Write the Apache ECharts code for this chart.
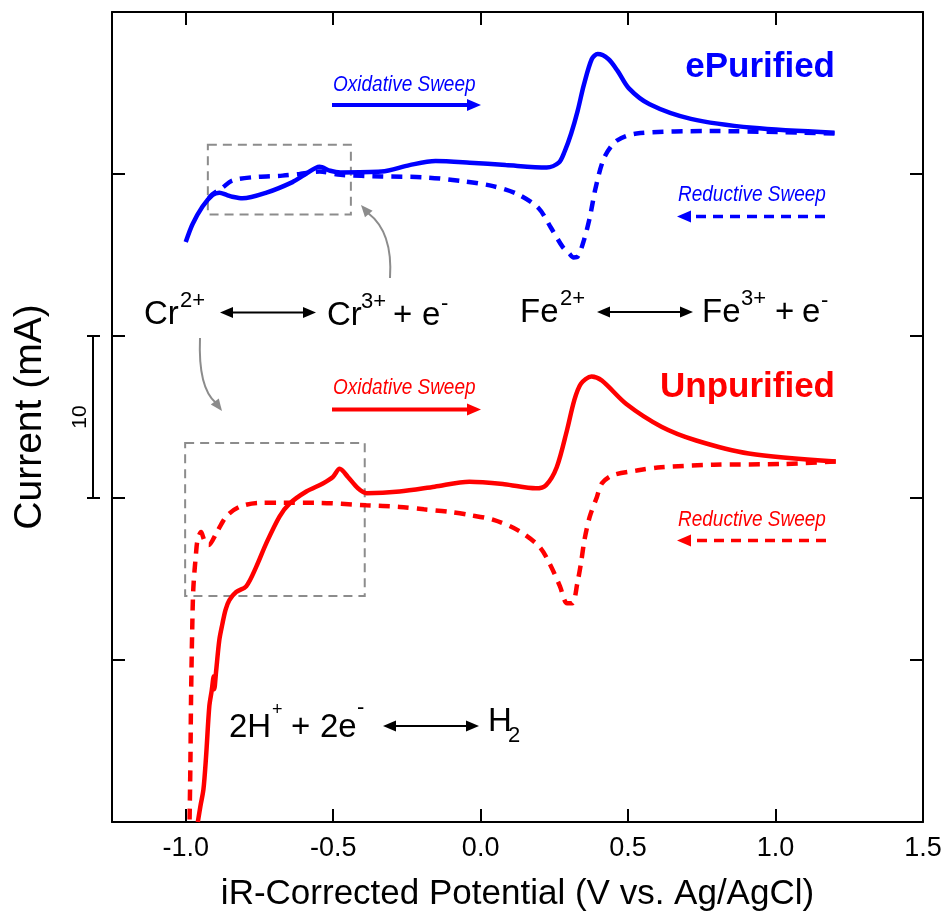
<!DOCTYPE html>
<html>
<head>
<meta charset="utf-8">
<script src="https://cdn.jsdelivr.net/npm/echarts@6/dist/echarts.min.js"></script>
<style>
  html, body { margin: 0; padding: 0; background: #fff; }
  #chart { width: 946px; height: 917px; }
</style>
</head>
<body>
<div id="chart"></div>
<script>
// ticks
const potentialTicks = [-1.0, -0.5, 0.0, 0.5, 1.0, 1.5]
const currentTicks = [10, 20, 30, 40]

// ePurified, oxidative sweep (solid) [V, mA]
const ePurifiedOx = [
  [-1.0, 35.8], [-0.977, 36.9], [-0.943, 38.0], [-0.909, 38.7], [-0.886, 38.85], [-0.86, 38.7],
  [-0.842, 38.6], [-0.808, 38.5], [-0.726, 38.85], [-0.638, 39.5], [-0.597, 39.95], [-0.546, 40.45],
  [-0.51, 40.2], [-0.475, 40.1], [-0.336, 40.15], [-0.241, 40.55], [-0.153, 40.8], [-0.037, 40.7],
  [0.085, 40.55], [0.224, 40.4], [0.265, 40.7], [0.285, 41.4], [0.307, 42.5], [0.329, 43.9],
  [0.35, 45.5], [0.377, 47.1], [0.397, 47.4], [0.433, 47.1], [0.465, 46.35], [0.502, 45.3],
  [0.573, 44.3], [0.713, 43.4], [0.923, 42.85], [1.2, 42.55],
]
// ePurified, reductive sweep (dashed)
const ePurifiedRed = [
  [1.2, 42.5], [0.782, 42.65], [0.529, 42.5], [0.461, 42.05], [0.419, 41.0], [0.39, 39.15],
  [0.37, 37.3], [0.35, 35.9], [0.329, 34.9], [0.315, 34.85], [0.3, 35.1], [0.278, 35.5],
  [0.238, 36.7], [0.196, 37.9], [0.126, 38.75], [0.042, 39.25], [-0.056, 39.55], [-0.195, 39.8],
  [-0.336, 39.85], [-0.475, 39.95], [-0.546, 40.15], [-0.614, 40.0], [-0.672, 39.9], [-0.774, 39.8],
  [-0.842, 39.6], [-0.876, 39.15], [-0.909, 38.75], [-0.937, 38.15],
]
// Unpurified, oxidative sweep (solid)
const unpurifiedOx = [
  [-0.959, 0], [-0.95, 1.0], [-0.94, 2.0], [-0.931, 4.05], [-0.92, 7.15], [-0.912, 8.1],
  [-0.905, 9.0], [-0.903, 8.2], [-0.897, 9.3], [-0.886, 11.25], [-0.876, 12.2], [-0.865, 13.1],
  [-0.852, 13.7], [-0.829, 14.2], [-0.795, 14.55], [-0.761, 15.75], [-0.727, 17.2], [-0.682, 18.85],
  [-0.648, 19.65], [-0.591, 20.4], [-0.535, 20.9], [-0.501, 21.3], [-0.478, 21.8], [-0.45, 21.3],
  [-0.416, 20.6], [-0.387, 20.3], [-0.275, 20.4], [-0.156, 20.7], [-0.038, 21.0], [0.08, 20.85],
  [0.187, 20.6], [0.222, 20.8], [0.258, 21.9], [0.293, 24.2], [0.317, 26.0], [0.34, 27.05],
  [0.376, 27.5], [0.411, 27.25], [0.494, 25.8], [0.613, 24.4], [0.731, 23.55], [0.909, 22.75],
  [1.204, 22.25],
]
// Unpurified, reductive sweep (dashed)
const unpurifiedRed = [
  [1.204, 22.25], [1.026, 22.1], [0.79, 22.05], [0.612, 21.9], [0.529, 21.7], [0.447, 21.4],
  [0.411, 20.9], [0.394, 20.05], [0.37, 18.85], [0.352, 17.4], [0.34, 15.95], [0.328, 14.75],
  [0.311, 13.5], [0.293, 13.5], [0.269, 14.55], [0.234, 15.95], [0.199, 17.0], [0.127, 18.0],
  [0.044, 18.65], [-0.038, 18.95], [-0.109, 19.15], [-0.192, 19.3], [-0.275, 19.45], [-0.388, 19.55],
  [-0.558, 19.7], [-0.671, 19.7], [-0.75, 19.7], [-0.818, 19.45], [-0.863, 18.85], [-0.897, 17.8],
  [-0.922, 17.1], [-0.937, 17.4], [-0.948, 17.9], [-0.96, 17.4], [-0.965, 16.6], [-0.974, 14.5],
  [-0.978, 11.9], [-0.982, 7.55], [-0.984, 3.85], [-0.987, 0],
]

// zoom boxes around the Cr region [[x1, y1], [x2, y2]]
const ePurifiedBox = [[-0.925, 41.8], [-0.44, 37.5]]
const unpurifiedBox = [[-1.002, 23.4], [-0.393, 13.95]]

const FONT = '"Liberation Sans", Arial, Helvetica, sans-serif'
const BLUE = '#0000ff'
const RED = '#ff0000'
const GRAY = '#8c8c8c'

const chart = echarts.init(document.getElementById('chart'))

const arrowHead = function (tx, ty, dx, dy, len, half, color) {
  const l = Math.sqrt(dx * dx + dy * dy)
  const ux = dx / l
  const uy = dy / l
  const bx = tx - ux * len
  const by = ty - uy * len
  return {
    type: 'polygon',
    shape: { points: [[tx, ty], [bx - uy * half, by + ux * half], [bx + uy * half, by - ux * half]] },
    style: { fill: color },
  }
}

// straight arrow, optional dashed
const sweepArrow = function (x1, x2, y, color, dashed) {
  const dir = x2 > x1 ? 1 : -1
  return [
    {
      type: 'line',
      shape: { x1: x1, y1: y, x2: x2 - dir * 12, y2: y },
      style: { stroke: color, lineWidth: dashed ? 3.5 : 4, lineDash: dashed ? [10, 7] : null },
    },
    arrowHead(x2, y, dir, 0, 14, 6, color),
  ]
}

const doubleArrow = function (x1, x2, y) {
  return [
    { type: 'line', shape: { x1: x1 + 10, y1: y, x2: x2 - 10, y2: y }, style: { stroke: '#000', lineWidth: 2 } },
    arrowHead(x1, y, -1, 0, 13, 5.5, '#000'),
    arrowHead(x2, y, 1, 0, 13, 5.5, '#000'),
  ]
}

const label = function (x, y, text, color, size, weight, italic, align, scaleY) {
  return {
    type: 'text',
    x: x,
    y: y,
    scaleY: scaleY || 1,
    style: {
      text: text,
      fill: color,
      font: (italic ? 'italic ' : '') + (weight || 'normal') + ' ' + size + 'px ' + FONT,
      align: align || 'left',
      verticalAlign: 'middle',
    },
  }
}

const sweepLabel = function (x, y, text, color) {
  return label(x, y, text, color, 19, 'normal', true, 'left', 1.15)
}

// reaction text pieces: [text, x, y, fontSize]
const chemPieces = [
  ['Cr', 144, 315, 33], ['2+', 180, 301, 22],
  ['Cr', 327, 316, 33], ['3+', 361, 302, 22], ['+', 393, 316, 33], ['e', 422, 316, 33], ['-', 441, 304, 22],
  ['Fe', 520, 313, 33], ['2+', 560, 299, 22],
  ['Fe', 702, 313, 33], ['3+', 741, 299, 22], ['+', 775, 313, 33], ['e', 802, 313, 33], ['-', 821, 301, 22],
  ['2H', 229, 728, 33], ['+', 272, 710, 18], ['+', 291, 728, 33], ['2e', 320, 728, 33], ['-', 357, 708, 22],
  ['H', 488, 722, 33], ['2', 508, 736, 22],
]

const graphics = [].concat(
  // sample names
  label(835, 67, 'ePurified', BLUE, 35, 'bold', false, 'right'),
  label(835, 387, 'Unpurified', RED, 35, 'bold', false, 'right'),
  // sweep directions
  sweepLabel(333, 85, 'Oxidative Sweep', BLUE),
  sweepArrow(332, 481, 105, BLUE, false),
  sweepLabel(678, 195, 'Reductive Sweep', BLUE),
  sweepArrow(825, 677, 216.5, BLUE, true),
  sweepLabel(333, 388, 'Oxidative Sweep', RED),
  sweepArrow(332, 481, 409.5, RED, false),
  sweepLabel(678, 520, 'Reductive Sweep', RED),
  sweepArrow(826, 677, 540.5, RED, true),
  // reactions
  chemPieces.map((p) => label(p[1], p[2], p[0], '#000', p[3], 'normal', false)),
  doubleArrow(220, 316, 312.5),
  doubleArrow(597, 693, 312),
  doubleArrow(383, 479, 726),
  // curved pointers
  {
    type: 'bezierCurve',
    shape: { x1: 390, y1: 278, cpx1: 393, cpy1: 232, x2: 368, y2: 213 },
    style: { stroke: GRAY, lineWidth: 2, fill: null },
  },
  arrowHead(361, 205, -0.65, -0.76, 12, 5, GRAY),
  {
    type: 'bezierCurve',
    shape: { x1: 200, y1: 338, cpx1: 198, cpy1: 388, x2: 216, y2: 403 },
    style: { stroke: GRAY, lineWidth: 2, fill: null },
  },
  arrowHead(222, 411, 0.6, 0.8, 12, 5, GRAY),
  // 10 mA scale bar
  { type: 'line', shape: { x1: 93, y1: 336, x2: 93, y2: 498 }, style: { stroke: '#000', lineWidth: 2 } },
  { type: 'line', shape: { x1: 87, y1: 336, x2: 100, y2: 336 }, style: { stroke: '#000', lineWidth: 2 } },
  { type: 'line', shape: { x1: 87, y1: 498, x2: 100, y2: 498 }, style: { stroke: '#000', lineWidth: 2 } },
  {
    type: 'text',
    x: 80,
    y: 417,
    rotation: Math.PI / 2,
    style: { text: '10', font: '21px ' + FONT, fill: '#000', align: 'center', verticalAlign: 'middle' },
  }
)

const boxArea = function (box) {
  return {
    silent: true,
    itemStyle: { color: 'rgba(0,0,0,0)', borderColor: GRAY, borderWidth: 2, borderType: [9, 6] },
    data: [[{ coord: box[0] }, { coord: box[1] }]],
  }
}

const tickStyle = { inside: true, length: 13, lineStyle: { color: '#000', width: 2 } }
const lineAxis = { show: true, onZero: false, lineStyle: { color: '#000', width: 2 } }

const option = {
  animation: false,
  backgroundColor: '#fff',
  textStyle: { fontFamily: FONT },
  grid: { left: 112, right: 23, top: 12, bottom: 94 },
  xAxis: [
    {
      type: 'value',
      min: -1.25,
      max: 1.5,
      position: 'bottom',
      axisLine: lineAxis,
      axisTick: { ...tickStyle, customValues: potentialTicks },
      axisLabel: {
        customValues: potentialTicks,
        formatter: (v) => v.toFixed(1),
        fontSize: 27,
        color: '#000',
        margin: 13,
      },
      splitLine: { show: false },
      name: 'iR-Corrected Potential (V vs. Ag/AgCl)',
      nameLocation: 'middle',
      nameGap: 55,
      nameTextStyle: { fontSize: 35, color: '#000' },
    },
    {
      type: 'value',
      min: -1.25,
      max: 1.5,
      position: 'top',
      axisLine: lineAxis,
      axisTick: { ...tickStyle, customValues: potentialTicks },
      axisLabel: { show: false },
      splitLine: { show: false },
    },
  ],
  yAxis: [
    {
      type: 'value',
      min: 0,
      max: 50,
      position: 'left',
      axisLine: lineAxis,
      axisTick: { ...tickStyle, customValues: currentTicks },
      axisLabel: { show: false },
      splitLine: { show: false },
      name: 'Current (mA)',
      nameLocation: 'middle',
      nameRotate: 90,
      nameGap: 62,
      nameTextStyle: { fontSize: 39, color: '#000' },
    },
    {
      type: 'value',
      min: 0,
      max: 50,
      position: 'right',
      axisLine: lineAxis,
      axisTick: { ...tickStyle, customValues: currentTicks },
      axisLabel: { show: false },
      splitLine: { show: false },
    },
  ],
  series: [
    {
      type: 'line',
      data: ePurifiedOx,
      showSymbol: false,
      smooth: 0.3,
      lineStyle: { color: BLUE, width: 4.5 },
      markArea: boxArea(ePurifiedBox),
    },
    {
      type: 'line',
      data: ePurifiedRed,
      showSymbol: false,
      smooth: 0.3,
      lineStyle: { color: BLUE, width: 4.5, type: [11, 8] },
    },
    {
      type: 'line',
      data: unpurifiedOx,
      showSymbol: false,
      smooth: 0.3,
      lineStyle: { color: RED, width: 4.5 },
      markArea: boxArea(unpurifiedBox),
    },
    {
      type: 'line',
      data: unpurifiedRed,
      showSymbol: false,
      smooth: 0.3,
      lineStyle: { color: RED, width: 4.5, type: [11, 8] },
    },
  ],
  graphic: graphics.map((g) => ({ ...g, z: 100 })),
}

chart.setOption(option)
</script>
</body>
</html>
